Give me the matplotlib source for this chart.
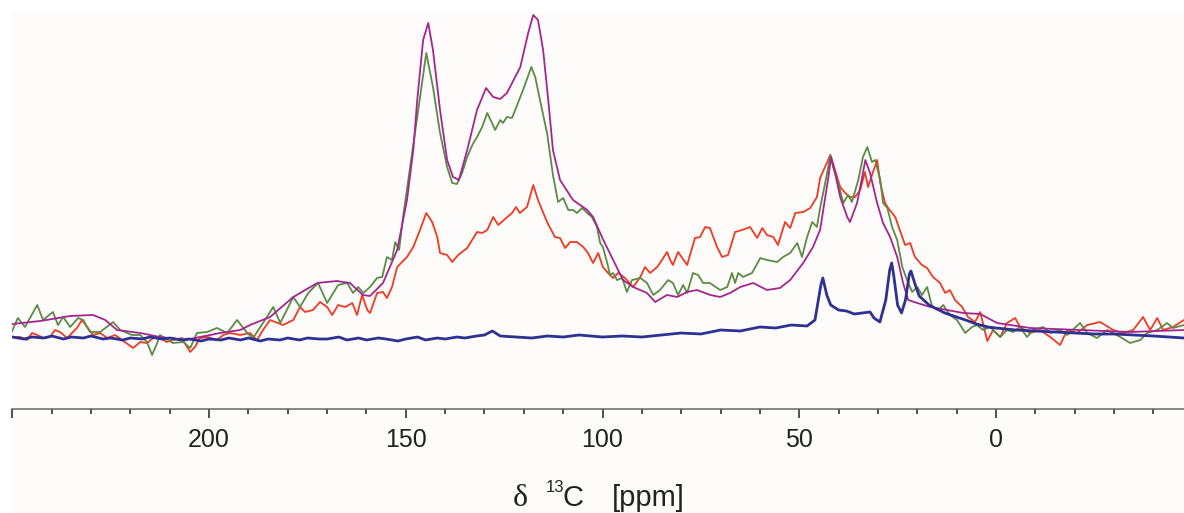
import matplotlib
matplotlib.use("Agg")
from matplotlib import pyplot as plt
from matplotlib.patches import Rectangle
import numpy as np

# chemical shift (ppm) and intensity (arb. units)
blue_ppm = [250, 247, 245, 242, 240, 237, 235, 232, 230, 227, 225, 222, 220, 217, 215, 212, 210, 207,
            205, 202, 200, 197, 195, 192, 190, 187, 185, 182, 180, 177, 175, 172, 170, 167, 165, 162,
            160, 157, 155, 152, 150, 147, 145, 142, 140, 137, 135, 132, 130, 128, 126, 122, 118, 114,
            110, 106, 100, 95, 90, 85, 80, 75, 70, 65, 60, 56, 52, 48, 46, 44.5, 44, 43, 42, 40, 38,
            36, 34, 32, 31, 29.5, 28, 27, 26.5, 26, 25, 24, 23, 22, 21.6, 20.5, 19.5, 17, 15, 13,
            10, 7, 5, 2, 0, -5, -10, -15, -20, -25, -30, -35, -40, -44, -47.8]
blue_int = [72, 70, 72, 71, 73, 70, 72, 71, 73, 70, 71, 69, 71, 70, 72, 70, 71, 69,
            70, 68, 70, 69, 71, 69, 71, 68, 70, 69, 71, 69, 71, 70, 70, 72, 69, 71,
            69, 71, 70, 68, 70, 72, 69, 71, 70, 72, 71, 73, 74, 78, 73, 72, 71, 73,
            72, 74, 72, 73, 72, 74, 76, 75, 79, 78, 82, 81, 84, 83, 89, 124, 131, 114, 104, 99, 98,
            95, 96, 97, 91, 87, 109, 139, 146, 134, 104, 96, 109, 135, 138, 124, 113, 104, 100, 96,
            92, 88, 85, 82, 81, 79, 78, 77, 76, 75, 75, 74, 73, 72, 71]

magenta_ppm = [250, 242.9, 235.3, 229.5, 226.4, 223.4, 217.5, 212.5, 206, 202.3, 197.2, 192.1, 189.6,
               184.5, 178.6, 172.5, 167.5, 164.2, 160.9, 159.1, 155.8, 152.2, 149.7, 148.1, 147.1,
               145.6, 144.3, 143.1, 141.3, 139.5, 138, 136.5, 134.4, 131.9, 129.6, 127.8, 126, 124.3,
               120.9, 118.9, 117.6, 116.4, 115.1, 113.8, 112.6, 110.8, 107.5, 103.9, 102.4, 99.8, 97.3,
               94.8, 92.2, 88.7, 86.6, 83.6, 81, 78.5, 76, 72.6, 70.1, 67.6, 65, 61.7, 58.2, 54.9, 52.3,
               49, 46.5, 44.7, 42.7, 41.9, 40.9, 39.6, 37.8, 37.1, 35.3, 34, 33.2, 32, 30.2, 28.7,
               26.9, 25.1, 23.6, 22.3, 20, 16.7, 12.4, 8.3, 4, -0.3, -8.7, -21.4, -34.1, -47.8]
magenta_int = [85, 88, 93, 94, 89, 79, 76, 72, 69, 72, 76, 79, 84,
               92, 112, 126, 128, 126, 114, 113, 126, 159, 209, 259, 309,
               369, 386, 359, 299, 249, 232, 229, 259, 299, 321, 312, 310, 316,
               342, 376, 394, 389, 359, 309, 259, 229, 209, 199, 192, 169, 149,
               129, 122, 116, 107, 114, 112, 117, 119, 114, 112, 116, 122, 126, 119, 121, 129,
               146, 162, 179, 229, 252, 236, 212, 192, 187, 206, 232, 249, 236, 206, 186,
               172, 152, 126, 109, 106, 102, 99, 96, 95, 86, 81, 79, 77, 79]

green_ppm = [250.3, 248.6, 246.8, 243.7, 242.2, 239.7, 238.4, 237.1, 235.3, 233.3, 232, 230.3, 227.7,
             224.4, 222.6, 219.6, 217.5, 215.8, 214.5, 213.2, 212.5, 209.2, 206.6, 204.8, 203.1,
             200.5, 198, 195.4, 192.9, 190.3, 188.8, 186.3, 183.7, 181.9, 178.6, 176.9, 174.8,
             172.3, 170, 167.2, 164.9, 163.4, 162.1, 160.8, 159.1, 157.3, 156, 154.8, 153.5, 152.7,
             151.7, 150.7, 148.9, 147.1, 144.8, 143.1, 141.3, 139.5, 138.2, 137, 135.7, 134.4,
             133.1, 131.9, 130.6, 129.3, 128.1, 127.3, 126, 125.3, 124.3, 123, 122.2, 120.2, 118.1,
             117.1, 115.9, 114.1, 112.6, 111.3, 110, 108.7, 107.5, 106.5, 105.2, 103.9, 102.7,
             101.4, 100.6, 99.9, 98.8, 98.1, 97.3, 96.3, 95, 93.8, 92.5, 90.4, 88.7, 87.1, 85.4,
             83.3, 82.1, 80.8, 79.5, 78.5, 77, 75.7, 74.4, 72.7, 70.1, 68.3, 67.1, 66.3, 65.5,
             64.3, 62, 59.9, 58.2, 55.6, 54.1, 52.3, 50.5, 49.3, 48, 46.7, 45.5, 44.7, 42.9, 42.1,
             41.4, 40.1, 38.8, 37.6, 36.6, 35, 33.8, 32.7, 31.5, 30.7, 29.4, 28.7, 27.6, 26.4,
             25.1, 23.8, 22.6, 21.3, 20, 18.8, 17.5, 16.2, 14.7, 13.4, 11.7, 9.9, 7.8, 6.1, 4.8,
             3.3, 1.5, -1.1, -2.8, -4.4, -6.1, -7.9, -9.4, -12, -13.8, -16.3, -18.1, -21.4, -23.2,
             -25.7, -28.3, -31.6, -34.1, -36.7, -38.4, -41, -43.5, -45, -47.8]
green_int = [76, 91, 82, 104, 89, 97, 84, 92, 82, 91, 89, 77, 77,
             87, 79, 74, 74, 67, 54, 66, 74, 66, 67, 61, 76,
             77, 81, 76, 89, 76, 71, 86, 102, 86, 112, 102, 116,
             126, 106, 124, 126, 116, 122, 116, 122, 131, 132, 152, 149, 167,
             159, 192, 242, 292, 356, 322, 276, 242, 226, 225, 236, 252,
             264, 272, 282, 296, 286, 279, 289, 286, 292, 291, 299, 319, 342,
             332, 309, 276, 234, 207, 211, 199, 199, 196, 201, 196, 192,
             182, 166, 162, 146, 134, 136, 129, 131, 117, 129, 131, 126, 114, 119,
             129, 126, 114, 124, 116, 136, 134, 126, 126, 119, 122, 136, 126, 136,
             132, 136, 151, 149, 147, 152, 156, 166, 152, 172, 187, 182, 201, 236, 254,
             242, 226, 206, 214, 207, 229, 252, 262, 247, 249, 229, 206, 201, 182,
             169, 142, 129, 117, 122, 114, 122, 102, 99, 104, 94, 89, 76, 82, 84,
             79, 82, 72, 79, 77, 82, 72, 79, 82, 76, 79, 74, 86, 76,
             71, 79, 72, 66, 69, 76, 79, 86, 81, 84]

red_ppm = [250.3, 248, 246.3, 245, 243.7, 242.2, 240.4, 239.2, 237.9, 236.1, 233.6, 232.3, 230.8,
           229.5, 227.7, 225.9, 223.9, 221.4, 219.3, 217.5, 215.8, 214.2, 212.5, 210.7, 209.2,
           206.9, 205.6, 204.8, 203.6, 202.3, 200.3, 198, 196.4, 194.7, 192.1, 189.6, 187.8,
           186.3, 184.5, 181.2, 178.6, 176.9, 175.6, 173.6, 171.8, 170, 168.7, 167.2, 165.4,
           163.6, 162.4, 161.1, 159.8, 159.1, 157.3, 155.8, 154.8, 153.5, 152.2, 149.7, 148.1,
           146.4, 144.8, 143.3, 142, 141.3, 139.5, 138.2, 136.7, 134.4, 131.9, 130.6, 129.3,
           127.8, 126.5, 124.2, 123, 122, 121, 119.2, 117.6, 116.4, 114.1, 112.1, 110.8, 109.5,
           108.2, 106.5, 104.9, 103.7, 102.4, 101.1, 99.9, 98.6, 97.3, 96, 94.3, 92.2, 90.4,
           89.2, 87.9, 86.1, 84.9, 83.6, 82.8, 82.1, 80.8, 78.5, 76.5, 75.2, 73.9, 72.7, 70.9,
           69.6, 68.1, 66.3, 64.5, 62.5, 60.7, 59.4, 58.2, 56.6, 55.4, 53.6, 52.3, 51, 49, 47.2,
           45.5, 44.7, 42.1, 40.9, 39.6, 38.3, 37.1, 35.8, 34.5, 33.3, 32.5, 31.5, 30.2, 29.4,
           28.2, 27.4, 25.6, 23.8, 23.1, 21.8, 20.6, 18.8, 17.5, 16, 14.2, 12.9, 11.7, 10.4, 8.6,
           7.1, 5.3, 4, 2.2, 0.7, -1.1, -2.8, -4.9, -6.1, -8.7, -11.2, -13.8, -16.3, -18.1,
           -20.6, -23.2, -26.5, -29.8, -32.3, -34.9, -37.4, -39.2, -41, -42.5, -45, -47.8]
red_int = [72, 72, 69, 76, 74, 71, 72, 79, 77, 71, 81, 89, 81,
           74, 76, 71, 74, 67, 61, 67, 66, 71, 71, 67, 69,
           71, 62, 57, 62, 71, 72, 69, 74, 76, 74, 76, 69,
           79, 89, 84, 89, 102, 97, 99, 107, 102, 94, 104, 102,
           106, 94, 114, 99, 96, 116, 117, 111, 122, 142, 152, 162,
           179, 196, 187, 172, 156, 154, 147, 154, 161, 177, 176, 179,
           192, 184, 192, 196, 202, 196, 202, 224, 209, 187, 172, 171, 161,
           167, 167, 162, 156, 146, 156, 142, 136, 131, 136, 131, 122, 132,
           142, 136, 142, 149, 157, 149, 144, 157, 144, 171, 172, 182, 181, 162,
           152, 154, 177, 179, 182, 171, 181, 174, 172, 164, 187, 181, 196, 197, 201,
           212, 231, 254, 239, 222, 216, 212, 212, 219, 237, 222, 234, 249, 226,
           206, 201, 192, 172, 164, 166, 152, 144, 141, 132, 126, 116, 119, 109, 102,
           92, 87, 97, 68, 79, 72, 86, 91, 82, 76, 79, 72, 64, 79,
           76, 84, 87, 79, 76, 79, 92, 79, 91, 79, 82, 89]

fig = plt.figure(figsize=(11.84, 5.13), dpi=100, facecolor="white")
fig.patches.append(Rectangle((11 / 1184, 0), 1, 1 - 13 / 513, transform=fig.transFigure,
                             facecolor="#fdfcfa", edgecolor="none", zorder=-10))

ax = fig.add_axes([12 / 1184, 104 / 513, 1 - 12 / 1184, 409 / 513])
ax.set_facecolor("none")

line_kw = dict(solid_joinstyle="round", solid_capstyle="round")
ax.plot(red_ppm, red_int, color="#f03a22", lw=1.3, zorder=2, **line_kw)
ax.plot(green_ppm, green_int, color="#5a8c46", lw=1.3, zorder=3, **line_kw)
ax.plot(magenta_ppm, magenta_int, color="#a52590", lw=1.3, zorder=4, **line_kw)
ax.plot(blue_ppm, blue_int, color="#2e3192", lw=2.0, zorder=5, **line_kw)

ax.set_xlim(250.1, -47.8)
ax.set_ylim(0, 409)

for s in ["left", "right", "top"]:
    ax.spines[s].set_visible(False)
ax.spines["bottom"].set_color("#666666")
ax.spines["bottom"].set_linewidth(1.1)
ax.set_yticks([])

ax.set_xticks([250, 200, 150, 100, 50, 0])
ax.set_xticklabels(["", "200", "150", "100", "50", "0"], fontsize=18, family="Liberation Sans",
                   color="#222222")
ax.set_xticks(np.arange(-40, 250, 10), minor=True)
ax.tick_params(axis="x", which="major", direction="out", length=6.5, width=1.2, color="#333333", pad=7)
ax.tick_params(axis="x", which="minor", direction="out", length=3.6, width=1.2, color="#333333")

# axis title pieces
fig.text(513 / 1184, 1 - 506 / 513, "\u03b4", fontsize=23, family="Liberation Serif",
         color="#222222", va="baseline", ha="left")
fig.text(546 / 1184, 1 - 492 / 513, "13", fontsize=12, family="Liberation Sans",
         color="#222222", va="baseline", ha="left")
fig.text(563 / 1184, 1 - 506 / 513, "C", fontsize=21, family="Liberation Sans",
         color="#222222", va="baseline", ha="left")
fig.text(612 / 1184, 1 - 506 / 513, "[ppm]", fontsize=21, family="Liberation Sans",
         color="#222222", va="baseline", ha="left")

fig.savefig("out.png", dpi=100)
